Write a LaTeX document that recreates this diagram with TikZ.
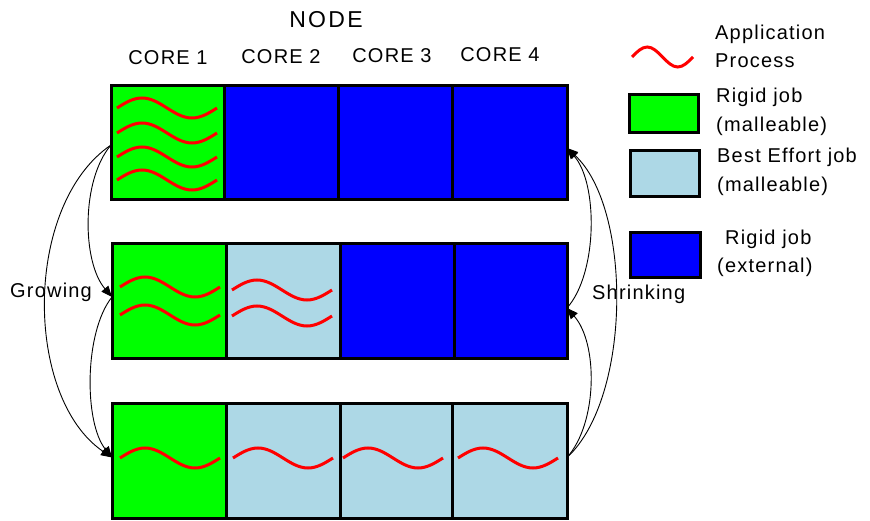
\documentclass[tikz,border=0pt]{standalone}
\usepackage{fontspec}
\setmainfont[LetterSpace=6]{Liberation Sans}
\usetikzlibrary{arrows.meta}
\definecolor{jgreen}{RGB}{0,255,0}
\definecolor{jblue}{RGB}{0,0,255}
\definecolor{jlight}{RGB}{173,216,230}
\definecolor{jred}{RGB}{255,0,0}
\newcommand\wv[3]{\draw[wave] (#1,#2) sin ++(#3,-10) cos ++(#3,10) sin ++(#3,10) cos ++(#3,-10);}
\begin{document}
\begin{tikzpicture}[x=1pt,y=-1pt,
  cell/.style={draw=black,line width=3pt,inner sep=0pt,outer sep=0pt,minimum height=114pt},
  legbox/.style={draw=black,line width=3pt,inner sep=0pt,outer sep=0pt},
  wave/.style={draw=jred,line width=3pt},
  lbl/.style={font=\fontsize{20}{24}\selectfont,inner sep=0pt},
  conn/.style={draw=black,line width=0.9pt,-{Triangle[length=11pt,width=9pt]}}]
\useasboundingbox (0,0) rectangle (870,521);
% row 1
\node[cell,fill=jgreen,minimum width=113pt] (r1c1) at (167.5,143) {};
\node[cell,fill=jblue,minimum width=114pt] (r1c2) at (281,143) {};
\node[cell,fill=jblue,minimum width=114pt] (r1c3) at (395,143) {};
\node[cell,fill=jblue,minimum width=115pt] (r1c4) at (509.5,143) {};
% row 2
\node[cell,fill=jgreen,minimum width=114pt] (r2c1) at (169,301) {};
\node[cell,fill=jlight,minimum width=114pt] (r2c2) at (283,301) {};
\node[cell,fill=jblue,minimum width=114pt] (r2c3) at (397,301) {};
\node[cell,fill=jblue,minimum width=113pt] (r2c4) at (510.5,301) {};
% row 3
\node[cell,fill=jgreen,minimum width=114pt,minimum height=115pt] (r3c1) at (169,460.5) {};
\node[cell,fill=jlight,minimum width=114pt,minimum height=115pt] (r3c2) at (283,460.5) {};
\node[cell,fill=jlight,minimum width=112pt,minimum height=115pt] (r3c3) at (396,460.5) {};
\node[cell,fill=jlight,minimum width=115pt,minimum height=115pt] (r3c4) at (509.5,460.5) {};
% waves
\wv{117}{108}{25}
\wv{117}{133}{25}
\wv{117}{157}{25}
\wv{117}{180}{25}
\wv{120}{287}{25}
\wv{120}{315}{25}
\wv{232}{290}{25}
\wv{232}{316}{25}
\wv{120}{458}{25}
\wv{233}{458}{25}
\wv{343}{458}{25}
\wv{458}{458}{25}
% titles
\node[lbl,anchor=base,font=\fontsize{23}{27}\selectfont\addfontfeature{LetterSpace=10}] (title) at (326,28) {NODE};
\node[lbl,anchor=base] (core1) at (168,65) {CORE 1};
\node[lbl,anchor=base] (core2) at (281,64) {CORE 2};
\node[lbl,anchor=base] (core3) at (392,63) {CORE 3};
\node[lbl,anchor=base] (core4) at (500,62) {CORE 4};
% connectors: growing
\draw[conn] ([yshift=-2pt]r1c1.west) .. controls +(-30,35) and +(-30,-35) .. ([yshift=4pt]r2c1.west);
\draw[conn] ([yshift=-2pt]r1c1.west) .. controls +(-88,60) and +(-88,-60) .. ([yshift=3pt]r3c1.west);
\draw[conn] ([yshift=4pt]r2c1.west) .. controls +(-28,35) and +(-28,-35) .. ([yshift=3pt]r3c1.west);
% connectors: shrinking
\draw[conn] ([yshift=-7pt]r2c4.east) .. controls +(31,-35) and +(31,35) .. ([yshift=-5pt]r1c4.east);
\draw[conn] ([yshift=3pt]r3c4.east) .. controls +(65,-60) and +(65,60) .. ([yshift=-5pt]r1c4.east);
\draw[conn] ([yshift=3pt]r3c4.east) .. controls +(31,-35) and +(31,35) .. ([yshift=-7pt]r2c4.east);
\node[lbl,anchor=base west] (grow) at (10,298) {Growing};
\node[lbl,anchor=base west] (shrink) at (592,300) {Shrinking};
% legend
\wv{632}{57}{15.25}
\node[lbl,anchor=base west] (l1a) at (715,40) {Application};
\node[lbl,anchor=base west] (l1b) at (715,68) {Process};
\node[legbox,fill=jgreen,minimum width=69pt,minimum height=38pt] (lg) at (663.5,114) {};
\node[lbl,anchor=base west] (l2a) at (716,103) {Rigid job};
\node[lbl,anchor=base west] (l2b) at (716,132) {(malleable)};
\node[legbox,fill=jlight,minimum width=69pt,minimum height=46pt] (ll) at (664.5,174) {};
\node[lbl,anchor=base west] (l3a) at (717,163) {Best Effort job};
\node[lbl,anchor=base west] (l3b) at (717,192) {(malleable)};
\node[legbox,fill=jblue,minimum width=70pt,minimum height=45pt] (lb) at (665.5,255.5) {};
\node[lbl,anchor=base west] (l4a) at (725,245) {Rigid job};
\node[lbl,anchor=base west] (l4b) at (717,273) {(external)};
\end{tikzpicture}
\end{document}
